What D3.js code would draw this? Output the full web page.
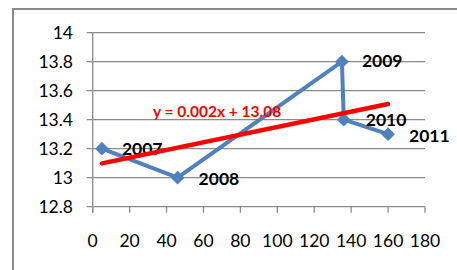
<!DOCTYPE html>
<html>
<head>
<meta charset="utf-8">
<script src="https://cdn.jsdelivr.net/npm/d3@7"></script>
<style>
  body { margin: 0; background: #fff; }
  svg { display: block; font-family: Lato, "Open Sans", sans-serif; }
</style>
</head>
<body>
<svg id="chart" width="457" height="270"></svg>
<script>
// values
var xVals = [5, 46, 135, 136, 160];
var yVals = [13.2, 13.0, 13.8, 13.4, 13.3];
var years = ["2007", "2008", "2009", "2010", "2011"];
var xTicks = [0, 20, 40, 60, 80, 100, 120, 140, 160, 180];
var yTicks = [12.8, 13, 13.2, 13.4, 13.6, 13.8, 14];
var equation = "y = 0.002x + 13.08";

// label offsets from the point (dx, dy)
var labelOff = [[20, 0], [21, 1], [20, -1], [22, 0], [21, 2]];

var svg = d3.select("#chart");

// outer frame (runs past the right/bottom edge)
svg.append("rect")
  .attr("x", 13).attr("y", 9)
  .attr("width", 470).attr("height", 290)
  .attr("fill", "none")
  .attr("stroke", "#8c8c8c")
  .attr("stroke-width", 2);

var x = d3.scaleLinear().domain([0, 180]).range([92.7, 425]);
var y = d3.scaleLinear().domain([12.8, 14]).range([206.7, 32.7]);

// gridlines
svg.append("g")
  .selectAll("line")
  .data(yTicks)
  .enter()
  .append("line")
  .attr("x1", x(0) - 6).attr("x2", x(180))
  .attr("y1", d => y(d)).attr("y2", d => y(d))
  .attr("stroke", "#8c8c8c")
  .attr("stroke-width", 1.3);

// y axis line
svg.append("line")
  .attr("x1", x(0)).attr("x2", x(0))
  .attr("y1", y(14)).attr("y2", y(12.8) + 6)
  .attr("stroke", "#8c8c8c").attr("stroke-width", 1.3);

// x tick marks
svg.append("g")
  .selectAll("line")
  .data(xTicks)
  .enter()
  .append("line")
  .attr("x1", d => x(d)).attr("x2", d => x(d))
  .attr("y1", y(12.8)).attr("y2", y(12.8) + 6)
  .attr("stroke", "#8c8c8c").attr("stroke-width", 1.3);

// tick labels
svg.append("g")
  .selectAll("text")
  .data(yTicks)
  .enter()
  .append("text")
  .attr("x", 73)
  .attr("y", d => y(d))
  .attr("dy", "0.35em")
  .attr("text-anchor", "end")
  .style("font-size", "17.5px")
  .attr("fill", "#000")
  .text(d => d3.format("")(d));

svg.append("g")
  .selectAll("text")
  .data(xTicks)
  .enter()
  .append("text")
  .attr("x", d => x(d))
  .attr("y", 241)
  .attr("dy", "0.35em")
  .attr("text-anchor", "middle")
  .style("font-size", "17.5px")
  .attr("fill", "#000")
  .text(d => d);

// data series
var pts = xVals.map((v, i) => ({ x: v, y: yVals[i], year: years[i], off: labelOff[i] }));

svg.append("path")
  .datum(pts)
  .attr("d", d3.line().x(d => x(d.x)).y(d => y(d.y)))
  .attr("fill", "none")
  .attr("stroke", "#4f81bd")
  .attr("stroke-width", 4)
  .attr("stroke-linejoin", "round");

svg.append("g")
  .selectAll("path")
  .data(pts)
  .enter()
  .append("path")
  .attr("transform", d => "translate(" + x(d.x) + "," + y(d.y) + ")")
  .attr("d", d3.symbol().type(d3.symbolDiamond2).size(120))
  .attr("fill", "#4f81bd");

svg.append("g")
  .selectAll("text")
  .data(pts)
  .enter()
  .append("text")
  .attr("x", d => x(d.x) + d.off[0])
  .attr("y", d => y(d.y) + d.off[1])
  .attr("dy", "0.35em")
  .style("font-size", "17.5px")
  .style("font-weight", "bold")
  .attr("fill", "#000")
  .text(d => d.year);

// linear trendline (least squares of the series)
var mx = d3.mean(xVals), my = d3.mean(yVals);
var slope = d3.sum(xVals, (v, i) => (v - mx) * (yVals[i] - my)) / d3.sum(xVals, v => (v - mx) * (v - mx));
var icpt = my - slope * mx;
var xr = d3.extent(xVals);

svg.append("line")
  .attr("x1", x(xr[0])).attr("y1", y(icpt + slope * xr[0]))
  .attr("x2", x(xr[1])).attr("y2", y(icpt + slope * xr[1]))
  .attr("stroke", "#ff0000")
  .attr("stroke-width", 4.5)
  .attr("stroke-linecap", "round");

svg.append("text")
  .attr("x", 153)
  .attr("y", 111.5)
  .attr("dy", "0.35em")
  .style("font-size", "15.5px")
  .style("font-weight", "bold")
  .attr("fill", "#ff0000")
  .text(equation);
</script>
</body>
</html>
